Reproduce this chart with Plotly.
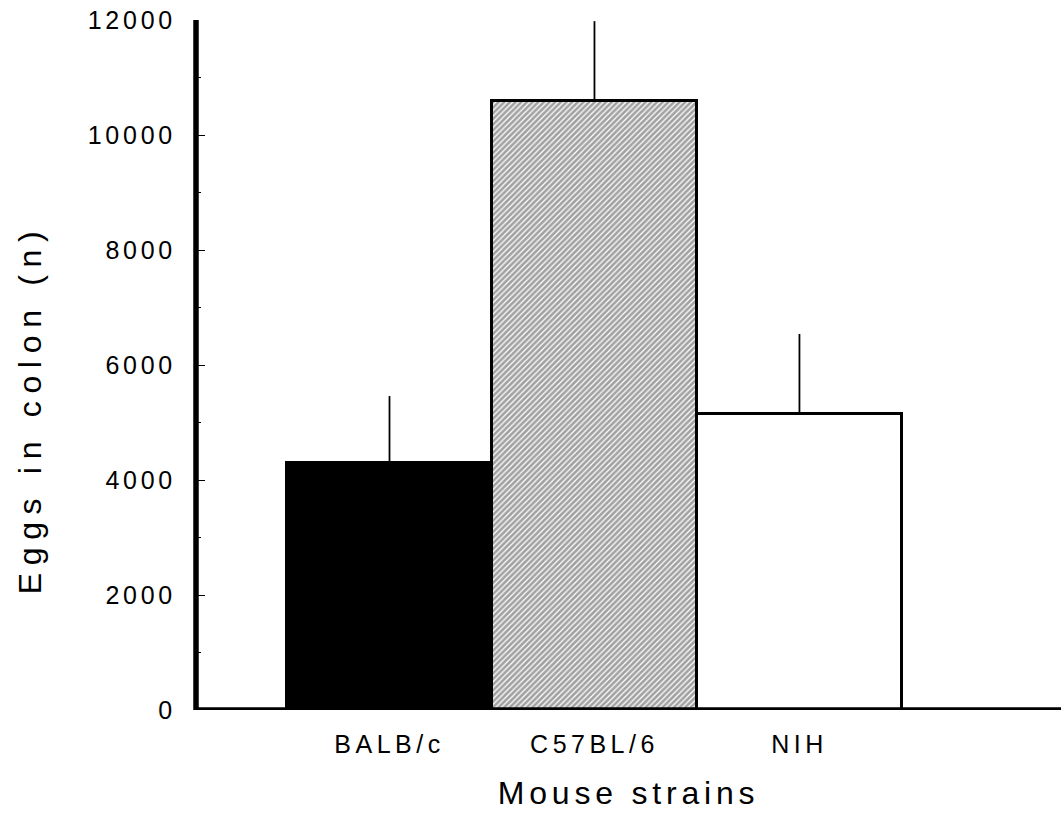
import plotly.graph_objects as go

strains = ["BALB/c", "C57BL/6", "NIH"]
eggs = [4290, 10600, 5140]
eggs_err = [1170, 1380, 1400]
fill_colors = ["black", "white", "white"]
patterns = ["", "/", ""]

y_ticks = [0, 2000, 4000, 6000, 8000, 10000, 12000]
y_tick_text = ["0", "2000", "4000", "6000", "8000", "10000", "12000"]

FONT = "Liberation Sans, Arial, sans-serif"

fig = go.Figure()
fig.add_trace(go.Bar(
    x=strains, y=eggs,
    width=1.0,
    marker=dict(
        color=fill_colors,
        line=dict(color="black", width=3),
        pattern=dict(shape=patterns, fgcolor="black", bgcolor="white",
                     size=4, solidity=0.68),
    ),
    error_y=dict(type="data", symmetric=False, array=eggs_err,
                 arrayminus=[0, 0, 0], width=0, thickness=1.8, color="black"),
    showlegend=False,
))

fig.update_layout(
    width=1061, height=823,
    margin=dict(l=196, r=0, t=20, b=113),
    plot_bgcolor="white", paper_bgcolor="white",
    font=dict(family=FONT, color="black"),
    bargap=0,
    xaxis=dict(
        type="category",
        range=[-0.944, 3.276],
        showline=False, showgrid=False, zeroline=False,
        ticks="", tickfont=dict(size=25, family=FONT),
        ticklabelstandoff=17,
    ),
    yaxis=dict(
        range=[0, 12000],
        showline=False, showgrid=False, zeroline=False,
        tickvals=y_ticks, ticktext=y_tick_text,
        ticks="inside", ticklen=9, tickwidth=1, tickcolor="black",
        minor=dict(dtick=1000, ticks="inside", ticklen=5, tickwidth=1, tickcolor="black"),
        tickfont=dict(size=25, family=FONT),
        ticklabelstandoff=19,
    ),
    shapes=[
        dict(type="line", xref="x domain", yref="y", x0=0, x1=1, y0=0, y1=0,
             line=dict(color="black", width=5.5)),
        dict(type="line", xref="x domain", yref="y", x0=0, x1=0, y0=0, y1=12000,
             line=dict(color="black", width=5.5)),
    ],
    annotations=[
        dict(text="Mouse strains", xref="paper", yref="paper", x=0.5, y=-0.12,
             xanchor="center", yanchor="middle", showarrow=False,
             font=dict(size=32, family=FONT)),
        dict(text="Eggs in colon (n)", xref="paper", yref="paper", x=-0.192, y=0.436,
             xanchor="center", yanchor="middle", showarrow=False, textangle=-90,
             font=dict(size=32, family=FONT)),
    ],
)

post = """
var s=document.createElement('style');
s.textContent='.ytick text{letter-spacing:0.15em} .xtick text{letter-spacing:0.18em} '
 + 'g.annotation[data-index="0"] text{letter-spacing:0.15em} '
 + 'g.annotation[data-index="1"] text{letter-spacing:0.24em}';
document.head.appendChild(s);
"""
fig.write_html("out.html", post_script=post)
